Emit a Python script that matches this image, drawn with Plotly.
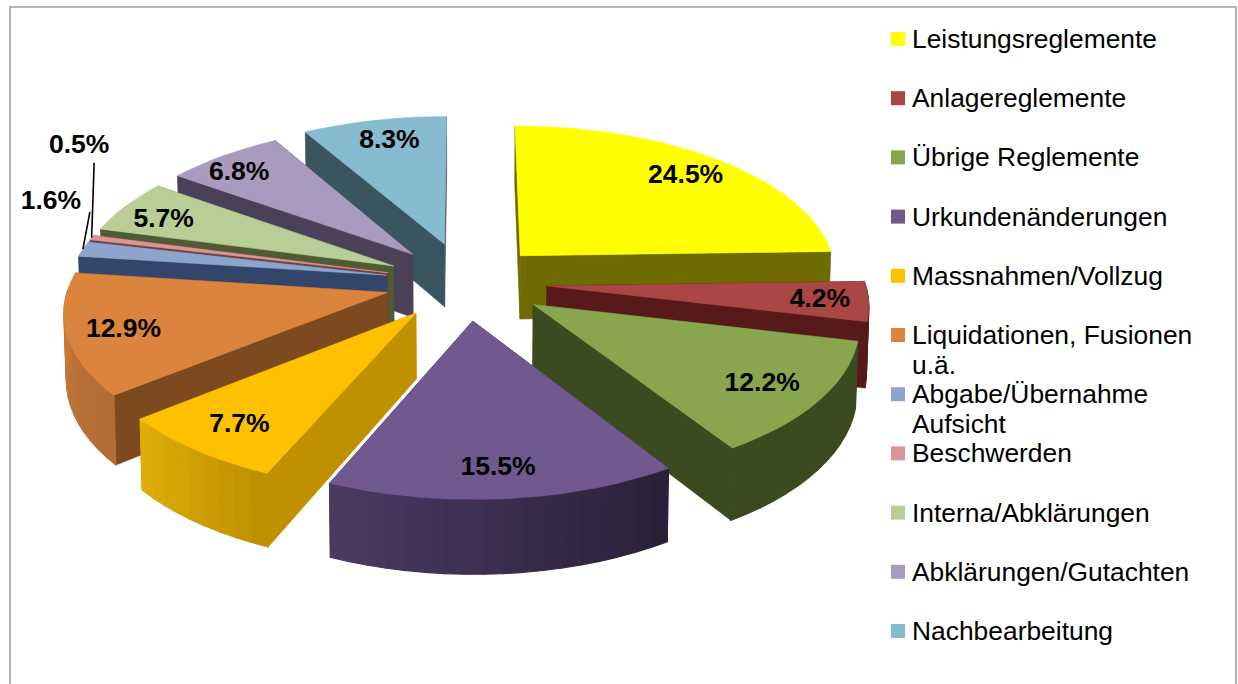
import math
import plotly.graph_objects as go

CATEGORIES = ["Leistungsreglemente", "Anlagereglemente", "Übrige Reglemente", "Urkundenänderungen",
              "Massnahmen/Vollzug", "Liquidationen, Fusionen<br>u.ä.", "Abgabe/Übernahme<br>Aufsicht",
              "Beschwerden", "Interna/Abklärungen", "Abklärungen/Gutachten", "Nachbearbeitung"]
VALUES = [24.5, 4.2, 12.2, 15.5, 7.7, 12.9, 1.6, 0.5, 5.7, 6.8, 8.3]
PULL = [0.25, 0.255, 0.255, 0.255, 0.255, 0.255, 0.255, 0.255, 0.255, 0.255, 0.27]
TOP = ["#FFFF00", "#AA4644", "#89A54E", "#71588F", "#FFC000", "#DB843D", "#8EA5CB", "#D99694", "#B9CD96", "#A99BBD", "#86BBD0"]
RADIAL = ["#6E6B00", "#551A19", "#3B4A1F", "#3A2C50", "#BF9000", "#7D4A1F", "#34456B", "#6E3F3E", "#4E5B33", "#4A4058", "#3B5560"]
CURVE_A = ["#6E6B00", "#551A19", "#3B4A1F", "#2A2139", "#BE9000", "#B26C35", "#34456B", "#6E3F3E", "#4E5B33", "#4A4058", "#3B5560"]
CURVE_B = ["#6E6B00", "#551A19", "#3B4A1F", "#4A3A62", "#DDAE08", "#C8793A", "#34456B", "#6E3F3E", "#4E5B33", "#4A4058", "#3B5560"]
LABEL_R = [0.84, 0.85, 0.81, 0.83, 0.815, 0.828, 1.26, 1.47, 0.84, 0.87, 0.84]
LABEL_TURN = [-0.8, -0.6, 0, 0, 0, 0, 15, 27, -1.3, -2, 1.2]
LEADER_OFFSET = {6: (39, 12), 7: (15, 19)}
PAINT_ORDER = [10, 0, 9, 8, 7, 6, 5, 1, 2, 4, 3]

CX, CY, R, K, TILT, DEPTH = 466, 282, 318, 0.11, 0.47, 64.5
FONT = "Liberation Sans, Arial, sans-serif"
LINE_GAP = 30


def project(px, py, low=False):
    s = 1 / (1 + K * py / R)
    return (CX + px * s * (0.994 if low else 1), CY - TILT * py * s + (DEPTH * s if low else 0))


def rim(th, origin, r=R):
    return origin[0] + r * math.sin(th), origin[1] + r * math.cos(th)


def mix(a, b, f):
    ca = [int(a[i:i + 2], 16) for i in (1, 3, 5)]
    cb = [int(b[i:i + 2], 16) for i in (1, 3, 5)]
    return "#%02x%02x%02x" % tuple(round(x + (y - x) * f) for x, y in zip(ca, cb))


fig = go.Figure()


def poly(points, color, width=0.6):
    xs = [p[0] for p in points] + [points[0][0]]
    ys = [p[1] for p in points] + [points[0][1]]
    fig.add_trace(go.Scatter(x=xs, y=ys, mode="lines", fill="toself", fillcolor=color,
                             line=dict(color=color, width=width), hoverinfo="skip", showlegend=False))


total = sum(VALUES)
starts = []
acc = 0
for v in VALUES:
    starts.append(acc)
    acc += v
geo = []
for v, st, pull in zip(VALUES, starts, PULL):
    a0 = st / total * 2 * math.pi
    a1 = (st + v) / total * 2 * math.pi
    mid = (a0 + a1) / 2
    p = pull * R
    geo.append((a0, a1, mid, (p * math.sin(mid), p * math.cos(mid))))

for i in PAINT_ORDER:
    a0, a1, mid, o = geo[i]
    n = max(4, int((a1 - a0) / math.radians(3)))
    ths = [a0 + (a1 - a0) * j / n for j in range(n + 1)]
    faces = []
    for th in (a0, a1):
        e = rim(th, o)
        faces.append(((e[1] + o[1]) / 2, [project(*o), project(*e), project(*e, True), project(*o, True)]))
    for _, f in sorted(faces, key=lambda t: -t[0]):
        poly(f, RADIAL[i])
    vis = [th for th in ths if math.cos(th) < 0.03]
    for j in range(len(vis) - 1):
        t0, t1 = vis[j], vis[j + 1]
        e0, e1 = rim(t0, o), rim(t1, o)
        f = j / max(1, len(vis) - 2)
        poly([project(*e0), project(*e1), project(*e1, True), project(*e0, True)],
             mix(CURVE_A[i], CURVE_B[i], f), 1.2)
    poly([project(*o)] + [project(*rim(th, o)) for th in ths], TOP[i])

lx, ly, lt = [], [], []
for i, (a0, a1, mid, o) in enumerate(geo):
    pt = project(*rim(mid + math.radians(LABEL_TURN[i]), o, R * LABEL_R[i]))
    lx.append(pt[0])
    ly.append(pt[1] + 3)
    lt.append(f"{VALUES[i]:.1f}%")
    if i in LEADER_OFFSET:
        dx, dy = LEADER_OFFSET[i]
        e = project(*rim(mid, o))
        fig.add_trace(go.Scatter(x=[pt[0] + dx, e[0]], y=[pt[1] + dy, e[1]], mode="lines",
                                 line=dict(color="#000000", width=1.6), hoverinfo="skip", showlegend=False))
fig.add_trace(go.Scatter(x=lx, y=ly, mode="text", text=lt, textposition="middle center",
                         textfont=dict(family=FONT, size=26.5, color="#000000"),
                         texttemplate="<b>%{text}</b>", hoverinfo="skip", showlegend=False))

rows = [39 + k * 59.2 for k in range(len(CATEGORIES))]
fig.add_trace(go.Scatter(x=[898] * len(rows), y=rows, mode="markers",
                         marker=dict(symbol="square", size=14, color=TOP, line=dict(width=0)),
                         hoverinfo="skip", showlegend=False))
for name, y in zip(CATEGORIES, rows):
    for k, part in enumerate(name.split("<br>")):
        fig.add_annotation(x=911, y=y + k * LINE_GAP, xref="x", yref="y", text=part, showarrow=False,
                           xanchor="left", yanchor="middle", align="left", xshift=-1,
                           font=dict(family=FONT, size=26.4, color="#000000"))

fig.update_layout(width=1238, height=684, margin=dict(l=0, r=0, t=0, b=0), paper_bgcolor="#ffffff",
                  plot_bgcolor="#ffffff", showlegend=False,
                  xaxis=dict(range=[0, 1238], visible=False, fixedrange=True),
                  yaxis=dict(range=[684, 0], visible=False, fixedrange=True),
                  shapes=[dict(type="rect", xref="x", yref="y", x0=10, y0=7, x1=1236, y1=690,
                               line=dict(color="#A0A0A0", width=1.6), fillcolor="rgba(0,0,0,0)", layer="below")])
fig.write_html("out.html", config={"displayModeBar": False},
               post_script="document.body.style.margin='0';document.documentElement.style.overflow='hidden';")
